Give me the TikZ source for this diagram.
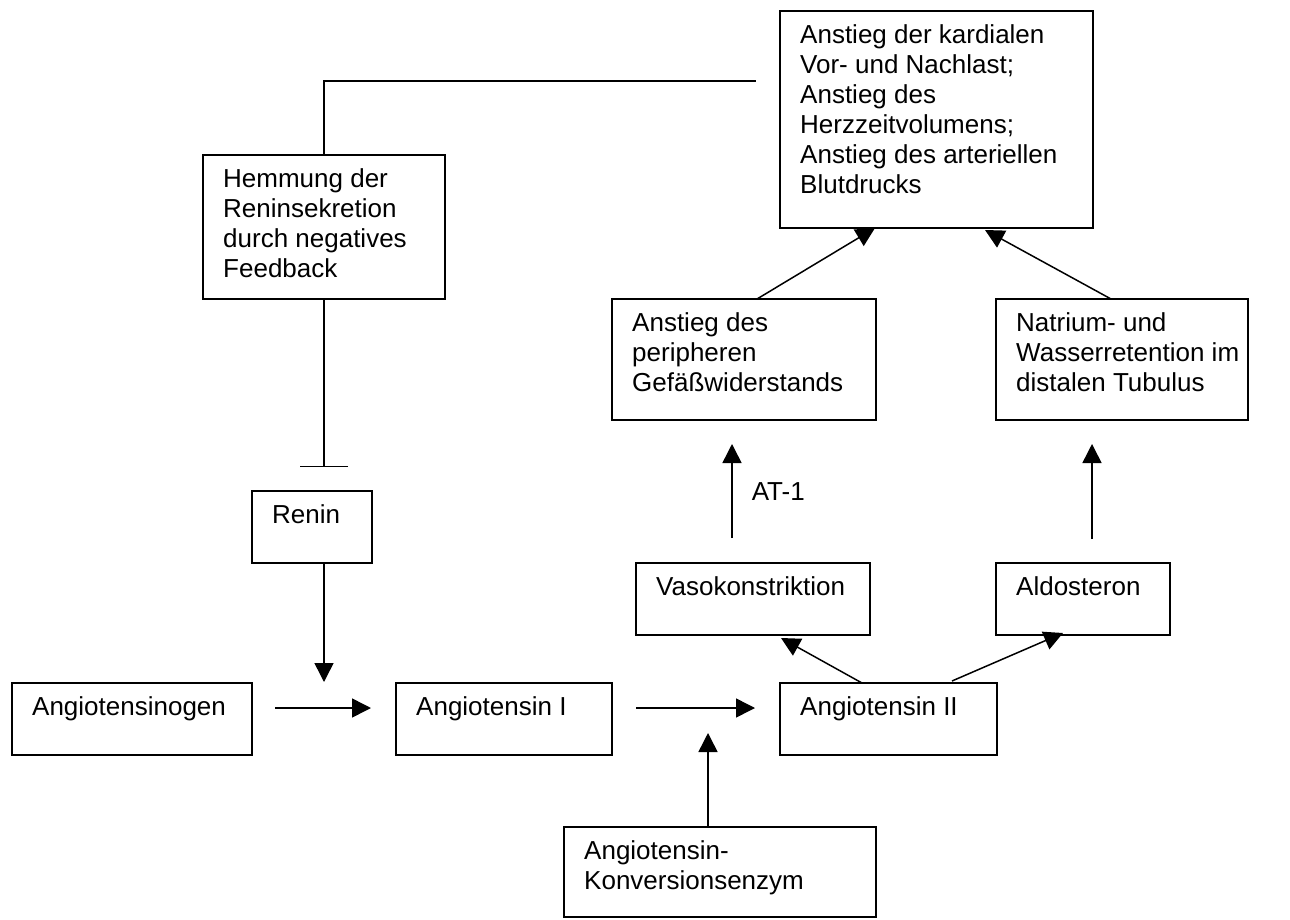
\documentclass[tikz,border=0pt]{standalone}
\usepackage{fontspec}
\setmainfont{Liberation Sans}
\usetikzlibrary{arrows.meta,calc}
\newcommand\mybox[6]{%
  \node[box, minimum width=#4pt, minimum height=#5pt] (#1) at (#2,#3) {};
  \node[txt] (#1-t) at ($(#1.north west)+(20,13.5)$) {#6};}
\begin{document}
\begin{tikzpicture}[x=1pt,y=-1pt,
  box/.style={draw, line width=1.5pt, rectangle, inner sep=0pt, outer sep=0pt, anchor=north west},
  txt/.style={anchor=north west, inner sep=0pt, align=left, font=\fontsize{26}{30}\selectfont},
  arr/.style={line width=1.5pt, -{Triangle[length=19pt,width=19pt]}},
  ln/.style={line width=1.5pt}]
\useasboundingbox (0,0) rectangle (1290,920);
% boxes
\mybox{top}{780}{11}{313}{217}{Anstieg der kardialen\\Vor- und Nachlast;\\Anstieg des\\Herzzeitvolumens;\\Anstieg des arteriellen\\Blutdrucks}
\mybox{hem}{203}{155}{242}{144}{Hemmung der\\Reninsekretion\\durch negatives\\Feedback}
\mybox{ren}{252}{491}{120}{72}{Renin}
\mybox{gef}{612}{299}{264}{121}{Anstieg des\\peripheren\\Gefäßwiderstands}
\mybox{nat}{996}{299}{252}{121}{Natrium- und\\Wasserretention im\\distalen Tubulus}
\mybox{vaso}{636}{563}{234}{72}{Vasokonstriktion}
\mybox{ald}{996}{563}{174}{72}{Aldosteron}
\mybox{ago}{12}{683}{240}{72}{Angiotensinogen}
\mybox{a1}{396}{683}{216}{72}{Angiotensin I}
\mybox{a2}{780}{683}{217}{72}{Angiotensin II}
\mybox{ace}{564}{827}{312}{90}{Angiotensin-\\Konversionsenzym}
% connector end points
\coordinate (fbend) at (756,81);
\coordinate (bar) at (324,467);
\coordinate (rtip) at (324,682);
\coordinate (acetip) at (708,733);
\coordinate (vtip) at (781,638);
\coordinate (atip) at (1063,633);
\coordinate (astart) at (952,681);
% feedback line
\draw[ln] (hem.north) |- (fbend);
\draw[ln, -{Bar[width=48pt,line width=1.5pt]}] (hem.south) -- (bar);
% renin
\draw[arr] (ren.south -| rtip) -- (rtip);
% main chain
\draw[arr, shorten <=23pt, shorten >=25pt] (ago.east |- 0,708) -- (a1.west |- 0,708);
\draw[arr, shorten <=24pt, shorten >=25pt] (a1.east |- 0,708) -- (a2.west |- 0,708);
% ACE
\draw[arr] (ace.north -| acetip) -- (acetip);
% angiotensin II branches
\draw[arr] (a2.north -| 862,0) -- (vtip);
\draw[arr] (astart) -- (atip);
% up arrows
\draw[arr, shorten <=25pt, shorten >=24pt] (vaso.north -| 732,0) -- (gef.south -| 732,0)
  node[pos=0.5, right=19pt, font=\fontsize{26}{30}\selectfont, inner sep=0pt] (at1) {AT-1};
\draw[arr, shorten <=24pt, shorten >=24pt] (ald.north -| 1092,0) -- (nat.south -| 1092,0);
% to top box
\draw[arr] ($(gef.north west)+(145,0)$) -- ($(top.south west)+(95,0)$);
\draw[arr] ($(nat.north west)+(115,0)$) -- ($(top.south west)+(205,2)$);
\end{tikzpicture}
\end{document}
